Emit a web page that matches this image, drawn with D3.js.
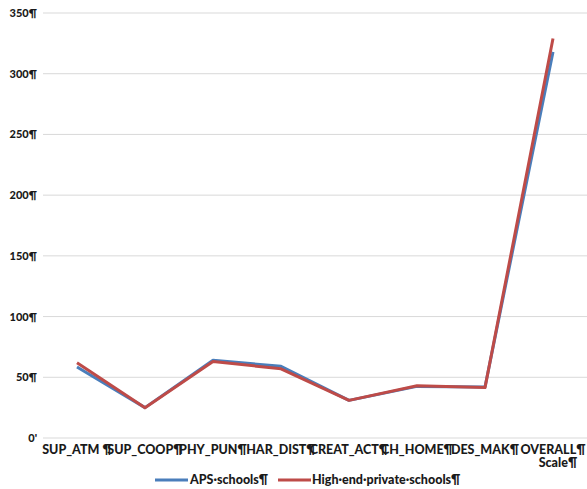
<!DOCTYPE html>
<html><head><meta charset="utf-8">
<script src="https://cdn.jsdelivr.net/npm/d3@7"></script>
<style>body{margin:0;background:#fff}svg{display:block}</style>
</head><body>
<script>
const categories = ["SUP_ATM ¶","SUP_COOP¶","PHY_PUN¶","HAR_DIST¶","CREAT_ACT¶","CH_HOME¶","DES_MAK¶","OVERALL¶|Scale¶"];
const apsValues = [58.5, 25, 64, 59, 31, 42.5, 42, 318];
const privateValues = [62, 25, 63, 57, 31, 43, 41.5, 329];
const yTicks = [0,50,100,150,200,250,300,350];
const yTickLabels = ["0'","50¶","100¶","150¶","200¶","250¶","300¶","350¶"];
const seriesNames = ["APS·schools¶","High·end·private·schools¶"];
const seriesColors = ["#4a7ebb","#be4b48"];

const W=587,H=489;
const svg=d3.select("body").append("svg").attr("width",W).attr("height",H);
const x=d3.scaleBand().domain(categories).range([43,587]);
const y=d3.scaleLinear().domain([0,350]).range([438,13]);
const font="Lato, 'Open Sans', sans-serif";

// grid
svg.append("g").selectAll("line").data(yTicks).join("line")
 .attr("x1",43).attr("x2",587).attr("y1",d=>y(d)).attr("y2",d=>y(d))
 .attr("stroke","#d9d9d9").attr("stroke-width",1);
// y labels
svg.append("g").selectAll("text").data(yTicks).join("text")
 .attr("x",37).attr("y",d=>y(d)+4).attr("text-anchor","end")
 .attr("font-family",font).attr("font-weight","900").attr("font-size",11).attr("fill","#1a1a1a")
 .text((d,i)=>yTickLabels[i]);
// x labels
const xl=svg.append("g").selectAll("text").data(categories).join("text")
 .attr("x",d=>x(d)+x.bandwidth()/2).attr("y",454).attr("text-anchor","middle")
 .attr("font-family",font).attr("font-weight","900").attr("font-size",12.5).attr("fill","#1a1a1a");
xl.each(function(d){
  const parts=d.split("|");
  const t=d3.select(this);
  parts.forEach((p,i)=>t.append("tspan").attr("x",x(d)+x.bandwidth()/2+(i>0?5:0)).attr("dy",i?13:0).text(p));
});
// lines
const line=d3.line().x((d,i)=>x(categories[i])+x.bandwidth()/2).y(d=>y(d));
[apsValues,privateValues].forEach((vals,k)=>{
  svg.append("path").datum(vals).attr("d",line).attr("fill","none")
   .attr("stroke",seriesColors[k]).attr("stroke-width",3).attr("stroke-linejoin","round");
});
// legend
const leg=[{x:155,tx:190},{x:278,tx:312}];
seriesNames.forEach((n,k)=>{
  svg.append("line").attr("x1",leg[k].x).attr("x2",leg[k].x+33).attr("y1",480).attr("y2",480)
   .attr("stroke",seriesColors[k]).attr("stroke-width",3);
  svg.append("text").attr("x",leg[k].tx).attr("y",484).attr("font-family",font).attr("font-weight","900")
   .attr("font-size",12.5).attr("fill","#1a1a1a").text(n);
});
</script>
</body></html>
